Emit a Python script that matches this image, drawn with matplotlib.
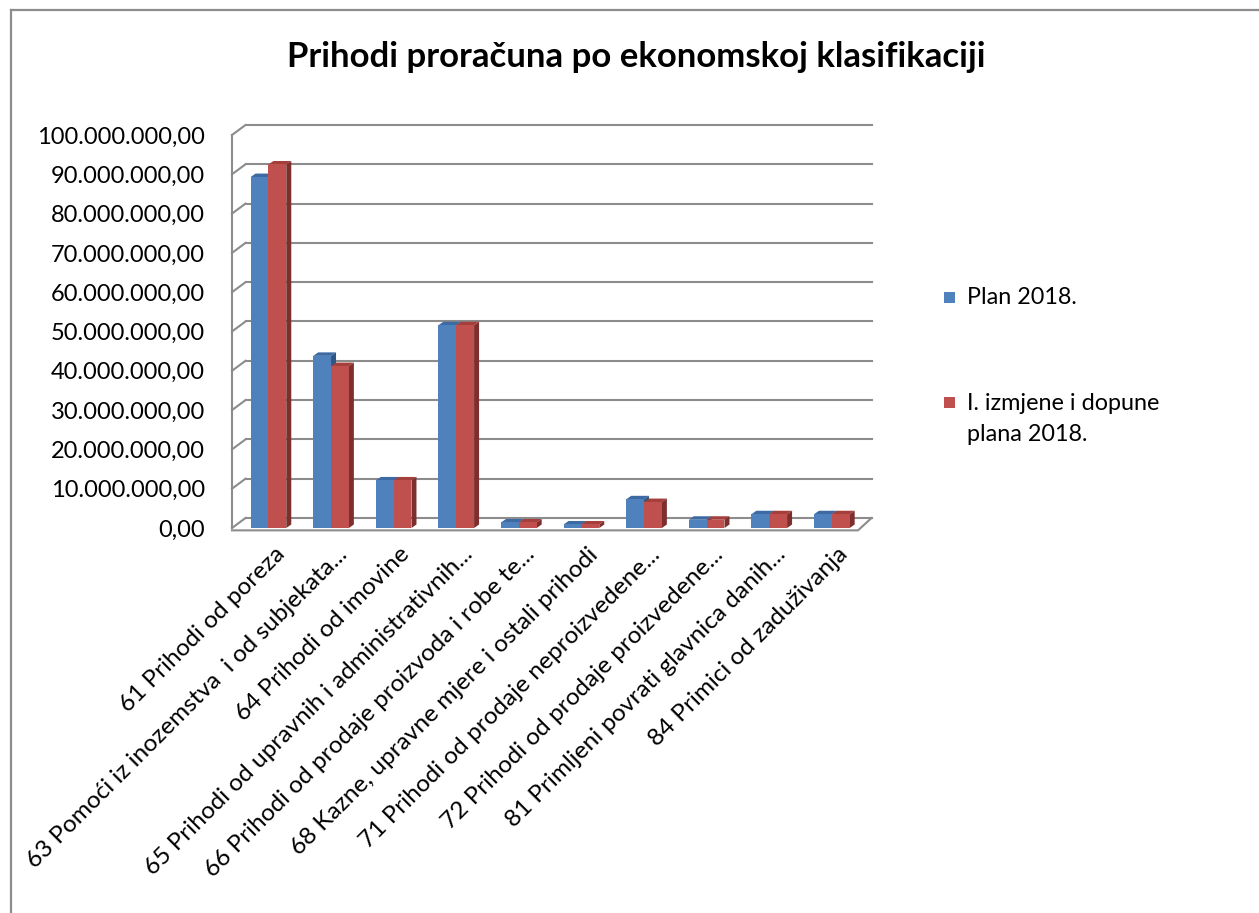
import numpy as np
import matplotlib
matplotlib.use("Agg")
import matplotlib.pyplot as plt
from matplotlib.patches import Rectangle, Polygon
from matplotlib.lines import Line2D
from matplotlib.transforms import ScaledTranslation

# ---------------- data ----------------
categories = [
    "61 Prihodi od poreza",
    "63 Pomoći iz inozemstva  i od subjekata...",
    "64 Prihodi od imovine",
    "65 Prihodi od upravnih i administrativnih...",
    "66 Prihodi od prodaje proizvoda i robe te...",
    "68 Kazne, upravne mjere i ostali prihodi",
    "71 Prihodi od prodaje neproizvedene...",
    "72 Prihodi od prodaje proizvedene...",
    "81 Primljeni povrati glavnica danih...",
    "84 Primici od zaduživanja",
]
plan_2018 = [89.3e6, 43.8e6, 12.1e6, 51.6e6, 1.4e6, 0.9e6, 7.3e6, 2.1e6, 3.5e6, 3.5e6]
izmjene_2018 = [92.5e6, 41.2e6, 12.1e6, 51.6e6, 1.4e6, 0.9e6, 6.6e6, 2.1e6, 3.5e6, 3.5e6]
series_names = ["Plan 2018.", "I. izmjene i dopune\nplana 2018."]
y_ticks = [0, 10e6, 20e6, 30e6, 40e6, 50e6, 60e6, 70e6, 80e6, 90e6, 100e6]
title = "Prihodi proračuna po ekonomskoj klasifikaciji"

# ---------------- style ----------------
plt.rcParams['font.family'] = ['Lato', 'DejaVu Sans']
W, H = 1259, 913
fig = plt.figure(figsize=(W / 100, H / 100), dpi=100)
fig.patch.set_facecolor('white')

def fx(px):
    return px / W

def fy(py):
    return 1 - py / H

blue, blue_top, blue_side = '#4F81BD', '#3D6AA2', '#2F5786'
red, red_top, red_side = '#C0504D', '#A43F3C', '#7D2F2D'
grid_c = '#8C8C8C'

# front plane of the 3D box
x_left, x_right, y_zero, y_top = 232, 858, 528, 135
ax = fig.add_axes([fx(x_left), fy(y_zero), (x_right - x_left) / W, (y_zero - y_top) / H])
ax.set_xlim(-0.5, 9.5)
ax.set_ylim(0, 100e6)
for s in ax.spines.values():
    s.set_visible(False)
ax.patch.set_alpha(0)

px_x = (x_right - x_left) / 10.0          # pixels per category
px_y = (y_zero - y_top) / 100e6           # pixels per unit value
DX, DY = 13.5 / px_x, 10.0 / px_y         # depth of box
bdx, bdy = 5.0 / px_x, 3.5 / px_y         # depth of bars

# back wall gridlines + left wall diagonals
for v in y_ticks:
    ax.add_line(Line2D([-0.5 + DX, 9.5 + DX], [v + DY, v + DY], color=grid_c, lw=1.5,
                       clip_on=False, zorder=1))
    ax.add_line(Line2D([-0.5, -0.5 + DX], [v, v + DY], color=grid_c, lw=1.5,
                       clip_on=False, zorder=1))
ax.add_line(Line2D([-0.5, -0.5], [0, 100e6], color=grid_c, lw=1.5, clip_on=False, zorder=1))
# floor
ax.add_line(Line2D([-0.5, 9.5, 9.5 + DX], [-0.6e6, -0.6e6, DY], color=grid_c, lw=1.5,
                   clip_on=False, zorder=1))

# bars
w = 0.285
x = np.arange(len(categories))
off_b, off_r = -0.203 + w / 2, -0.203 + w + w / 2
bars_b = ax.bar(x + off_b, plan_2018, width=w, color=blue, zorder=3, linewidth=0)
bars_r = ax.bar(x + off_r, izmjene_2018, width=w, color=red, zorder=5, linewidth=0)

def faces(bars, ctop, cside, z):
    for r in bars:
        x0, v, bw = r.get_x(), r.get_height(), r.get_width()
        top = Polygon([(x0, v), (x0 + bw, v), (x0 + bw + bdx, v + bdy), (x0 + bdx, v + bdy)],
                      closed=True, facecolor=ctop, edgecolor='none', zorder=z, clip_on=False)
        side = Polygon([(x0 + bw, 0), (x0 + bw + bdx, bdy), (x0 + bw + bdx, v + bdy), (x0 + bw, v)],
                       closed=True, facecolor=cside, edgecolor='none', zorder=z, clip_on=False)
        ax.add_patch(top)
        ax.add_patch(side)

faces(bars_b, blue_top, blue_side, 2.5)
faces(bars_r, red_top, red_side, 4.5)

# y axis labels
ax.set_yticks(y_ticks)
ax.set_yticklabels([f"{v:,.2f}".replace(",", "X").replace(".", ",").replace("X", ".") for v in y_ticks],
                   fontsize=17.0)
ax.tick_params(axis='y', length=0, pad=19.4)
ax.set_xticks([])

# x category labels
for i, lab in enumerate(categories):
    tr = ax.transData + ScaledTranslation(18 / 100, -23 / 100, fig.dpi_scale_trans)
    ax.text(i, 0, lab, transform=tr, rotation=45, rotation_mode='anchor',
            ha='right', va='center', fontsize=17.6, color='black')

# title
fig.text(fx(636), fy(57), title, ha='center', va='center', fontsize=25, fontweight='bold')

# legend
fig.add_artist(Rectangle((fx(944), fy(303)), 11 / W, 11 / H, transform=fig.transFigure,
                         facecolor=blue, edgecolor='none'))
fig.text(fx(967), fy(297), series_names[0], ha='left', va='center', fontsize=16.8)
fig.add_artist(Rectangle((fx(944), fy(408)), 11 / W, 11 / H, transform=fig.transFigure,
                         facecolor=red, edgecolor='none'))
fig.text(fx(967), fy(419), series_names[1], ha='left', va='center', fontsize=16.8,
         linespacing=1.62)

# chart border
fig.add_artist(Line2D([fx(11), fx(11)], [0, fy(10)], transform=fig.transFigure, color='#8C8C8C', lw=1.6))
fig.add_artist(Line2D([fx(11), 1], [fy(10), fy(10)], transform=fig.transFigure, color='#8C8C8C', lw=1.6))

fig.savefig("out.png", dpi=100)
